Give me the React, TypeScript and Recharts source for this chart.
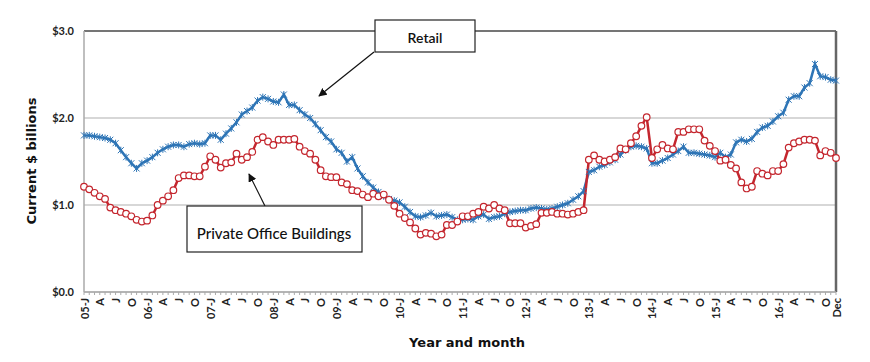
import { LineChart, Line, XAxis, YAxis, CartesianGrid, ReferenceLine } from 'recharts'

const years = ['05', '06', '07', '08', '09', '10', '11', '12', '13', '14', '15', '16']
const monthNames = ['Jan', 'Feb', 'Mar', 'Apr', 'May', 'Jun', 'Jul', 'Aug', 'Sep', 'Oct', 'Nov', 'Dec']
// quarter tick letters shown under Jan / Apr / Jul / Oct
const quarterLetters = ['J', 'A', 'J', 'O']
const lastTickLabel = 'Dec'

// Current $ billions, monthly Jan 2005 - Dec 2016
const retail = [
  1.80, 1.80, 1.79, 1.78, 1.77, 1.75, 1.71, 1.63, 1.55, 1.48, 1.42, 1.48,
  1.51, 1.55, 1.60, 1.64, 1.67, 1.69, 1.69, 1.67, 1.70, 1.71, 1.70, 1.71,
  1.80, 1.80, 1.75, 1.82, 1.88, 1.95, 2.04, 2.08, 2.12, 2.20, 2.24, 2.22,
  2.19, 2.18, 2.27, 2.15, 2.15, 2.09, 2.04, 2.00, 1.93, 1.86, 1.78, 1.73,
  1.64, 1.60, 1.50, 1.55, 1.42, 1.33, 1.26, 1.20, 1.15, 1.10, 1.07, 1.05,
  1.03, 0.98, 0.92, 0.87, 0.86, 0.88, 0.91, 0.87, 0.88, 0.89, 0.86, 0.83,
  0.83, 0.84, 0.83, 0.87, 0.89, 0.84, 0.86, 0.87, 0.90, 0.92, 0.93, 0.94,
  0.94, 0.96, 0.97, 0.96, 0.95, 0.96, 0.98, 1.00, 1.02, 1.06, 1.10, 1.16,
  1.38, 1.40, 1.44, 1.46, 1.49, 1.52, 1.58, 1.63, 1.67, 1.68, 1.67, 1.65,
  1.48, 1.48, 1.51, 1.54, 1.58, 1.62, 1.67, 1.60, 1.60, 1.59, 1.58, 1.57,
  1.55, 1.60, 1.55, 1.58, 1.72, 1.75, 1.73, 1.76, 1.84, 1.89, 1.91, 1.96,
  2.02, 2.06, 2.21, 2.25, 2.25, 2.35, 2.40, 2.62, 2.48, 2.47, 2.44, 2.43,
]

const office = [
  1.21, 1.18, 1.14, 1.10, 1.07, 0.97, 0.94, 0.92, 0.90, 0.87, 0.83, 0.81,
  0.82, 0.88, 1.00, 1.05, 1.10, 1.17, 1.31, 1.34, 1.34, 1.33, 1.33, 1.44,
  1.56, 1.52, 1.43, 1.48, 1.49, 1.59, 1.52, 1.55, 1.61, 1.75, 1.78, 1.73,
  1.69, 1.75, 1.75, 1.75, 1.76, 1.67, 1.62, 1.59, 1.52, 1.40, 1.33, 1.32,
  1.32, 1.26, 1.24, 1.17, 1.16, 1.12, 1.09, 1.13, 1.10, 1.12, 1.06, 0.99,
  0.90, 0.85, 0.80, 0.73, 0.66, 0.68, 0.67, 0.64, 0.66, 0.77, 0.77, 0.81,
  0.87, 0.87, 0.90, 0.92, 0.98, 0.96, 1.00, 0.96, 0.94, 0.79, 0.79, 0.79,
  0.74, 0.76, 0.78, 0.91, 0.91, 0.92, 0.90, 0.90, 0.89, 0.90, 0.92, 0.94,
  1.52, 1.57, 1.52, 1.50, 1.52, 1.55, 1.65, 1.64, 1.71, 1.79, 1.91, 2.01,
  1.54, 1.64, 1.69, 1.65, 1.64, 1.84, 1.84, 1.87, 1.87, 1.87, 1.74, 1.68,
  1.62, 1.51, 1.52, 1.46, 1.42, 1.26, 1.19, 1.21, 1.39, 1.36, 1.34, 1.39,
  1.39, 1.47, 1.66, 1.71, 1.73, 1.75, 1.75, 1.74, 1.57, 1.62, 1.60, 1.54,
]

const yTicks = [0, 1, 2, 3]

const data = years.flatMap((yr, yi) =>
  monthNames.map((m, mi) => ({
    month: `${yr}-${m}`,
    retail: retail[yi * 12 + mi],
    office: office[yi * 12 + mi],
  })),
)
const lastMonth = data[data.length - 1].month

const BLUE = '#2E75B6'
const RED = '#C4262E'
const FONT = 'Lato, "Noto Sans", sans-serif'
const TITLE_FONT = '"DejaVu Sans", sans-serif'

function tickText(month: string) {
  if (month === lastMonth) return lastTickLabel
  const [yr, m] = month.split('-')
  const mi = monthNames.indexOf(m)
  if (mi % 3 !== 0) return ''
  const q = quarterLetters[mi / 3]
  return mi === 0 ? `${yr}-${q}` : q
}

const MonthTick = ({ x, y, payload }: any) => {
  const label = tickText(payload.value)
  if (!label) return null
  return (
    <text
      x={x}
      y={y + 1}
      transform={`rotate(-90, ${x}, ${y + 1})`}
      textAnchor="end"
      dominantBaseline="central"
      fontSize={11}
      fontWeight={700}
      fontFamily={FONT}
      fill="#222"
    >
      {label}
    </text>
  )
}

const StarDot = (props: any) => {
  const { cx, cy, key } = props
  if (cx == null || cy == null) return null
  const s = 3
  return (
    <g key={key} stroke={BLUE} strokeWidth={1}>
      <line x1={cx - s} y1={cy - s} x2={cx + s} y2={cy + s} />
      <line x1={cx - s} y1={cy + s} x2={cx + s} y2={cy - s} />
      <line x1={cx} y1={cy - s - 0.5} x2={cx} y2={cy + s + 0.5} />
    </g>
  )
}

export default function App() {
  return (
    <div style={{ position: 'absolute', left: 0, top: 0, width: 870, height: 362, background: '#fff' }}>
      <LineChart width={870} height={362} data={data} margin={{ top: 31, right: 34, left: 0, bottom: 0 }}>
        <CartesianGrid vertical={false} stroke="#b0b0b0" strokeWidth={1.2} />
        <XAxis
          dataKey="month"
          interval={0}
          height={70}
          tick={<MonthTick />}
          tickSize={3}
          tickLine={{ stroke: '#aaa' }}
          axisLine={{ stroke: '#aaa', strokeWidth: 1.5 }}
        />
        <YAxis
          domain={[0, 3]}
          ticks={yTicks}
          width={84}
          tickSize={0}
          tickMargin={10}
          tickLine={false}
          axisLine={{ stroke: '#aaa', strokeWidth: 1.5 }}
          tickFormatter={(v) => `$${Number(v).toFixed(1)}`}
          tick={{ fontSize: 11, fontWeight: 700, fill: '#222', fontFamily: FONT }}
        />
        <ReferenceLine y={3} stroke="#555" strokeWidth={1.5} />
        <ReferenceLine x={lastMonth} stroke="#666" strokeWidth={2.5} />
        <Line
          dataKey="retail"
          stroke={BLUE}
          strokeWidth={2.5}
          dot={StarDot}
          isAnimationActive={false}
        />
        <Line
          dataKey="office"
          stroke={RED}
          strokeWidth={2.5}
          dot={{ r: 3.3, fill: '#fff', stroke: RED, strokeWidth: 1.2 }}
          isAnimationActive={false}
        />
      </LineChart>
      <svg width={870} height={362} style={{ position: 'absolute', left: 0, top: 0, pointerEvents: 'none' }}>
        <defs>
          <marker id="arrow" viewBox="0 0 10 10" refX="9" refY="5" markerWidth="7" markerHeight="7" orient="auto-start-reverse">
            <path d="M0,0 L10,5 L0,10 z" fill="#111" />
          </marker>
        </defs>
        <text
          transform="translate(31, 161) rotate(-90)"
          textAnchor="middle"
          dominantBaseline="central"
          fontSize={13}
          fontWeight={700}
          fontFamily={TITLE_FONT}
          fill="#111"
        >
          Current $ billions
        </text>
        <text x={467} y={342} textAnchor="middle" dominantBaseline="central" fontSize={13} fontWeight={700} fontFamily={TITLE_FONT} fill="#111">
          Year and month
        </text>

        <line x1={374} y1={52} x2={319} y2={96} stroke="#111" strokeWidth={1.2} markerEnd="url(#arrow)" />
        <rect x={375} y={20} width={100} height={32} fill="#fff" stroke="#222" strokeWidth={1.2} />
        <text x={425} y={37} textAnchor="middle" dominantBaseline="central" fontSize={14} fontWeight={600} fontFamily={FONT} fill="#111">
          Retail
        </text>

        <line x1={265} y1={206} x2={249} y2={174} stroke="#111" strokeWidth={1.2} markerEnd="url(#arrow)" />
        <rect x={187} y={206} width={175} height={46} fill="#fff" stroke="#222" strokeWidth={1.2} />
        <text x={274} y={233} textAnchor="middle" dominantBaseline="central" fontSize={15} fontWeight={500} fontFamily={FONT} fill="#111">
          Private Office Buildings
        </text>
      </svg>
    </div>
  )
}
